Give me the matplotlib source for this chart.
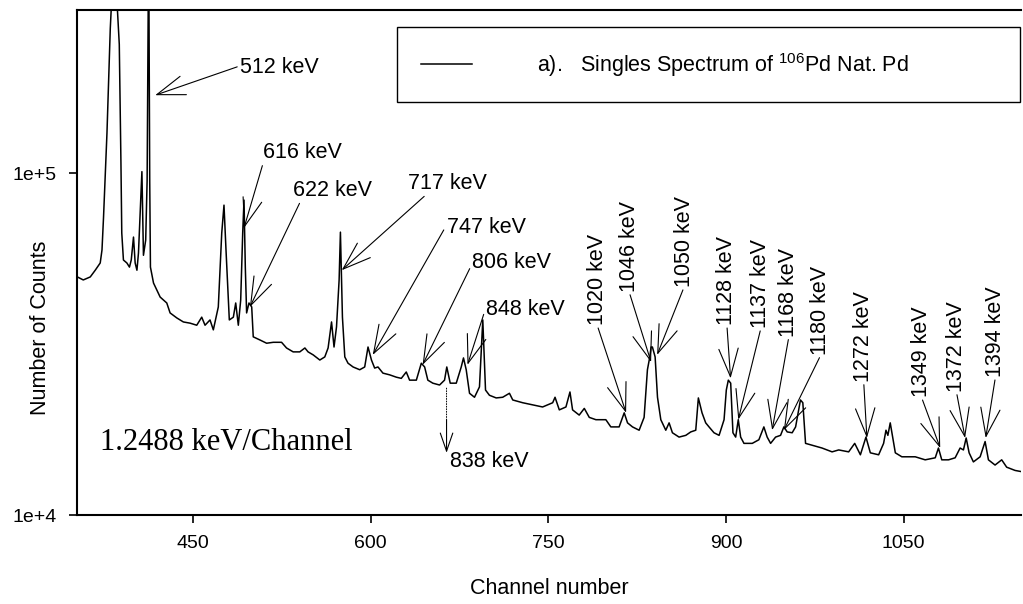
import matplotlib
matplotlib.use("Agg")
import matplotlib.pyplot as plt
import matplotlib.ticker as ticker

plt.rcParams["font.family"] = ["Liberation Sans", "DejaVu Sans"]
plt.rcParams["mathtext.default"] = "regular"

# spectrum: channel number, counts in thousands
channel = [
    352.3, 357.3, 363.2, 367.4, 371.6, 373.1, 374.4, 377.3, 380.1, 382.6,
    385.1, 387.7, 389.1, 389.8, 391.2, 394.1, 396.3, 397.8, 399.7, 401.1,
    402.6, 403.9, 406.8, 408.1, 410.0, 411.2, 412.5, 413.4, 414.0, 416.6,
    419.4, 422.2, 427.8, 430.6, 436.3, 441.8, 447.5, 453.1, 457.3, 460.1,
    464.3, 467.1, 471.3, 474.2, 476.1, 477.8, 480.6, 484.0, 486.0, 488.2,
    490.2, 491.9, 493.0, 494.1, 495.2, 497.2, 499.5, 500.8, 506.5, 512.1,
    517.7, 524.7, 528.9, 534.5, 540.1, 544.4, 547.1, 551.4, 557.0, 561.2,
    564.0, 566.9, 569.0, 571.1, 573.3, 574.4, 576.1, 578.1, 580.8, 585.1,
    590.7, 594.9, 597.7, 600.6, 603.3, 606.1, 610.3, 616.0, 621.6, 625.8,
    630.0, 632.8, 638.5, 642.7, 645.5, 648.2, 652.4, 658.1, 662.3, 664.2,
    667.1, 672.2, 676.4, 678.3, 680.6, 683.4, 687.6, 691.8, 694.6, 696.9,
    700.2, 705.9, 711.4, 717.1, 719.9, 728.3, 736.7, 745.1, 753.6, 755.6,
    759.2, 764.8, 768.2, 770.4, 776.0, 780.3, 784.5, 790.1, 798.5, 802.7,
    809.7, 814.0, 816.8, 821.0, 826.6, 830.8, 833.6, 835.6, 836.7, 837.8,
    840.1, 842.1, 844.9, 849.1, 851.9, 854.7, 860.3, 866.0, 870.2, 874.4,
    876.6, 879.7, 882.8, 885.6, 889.8, 894.1, 898.3, 900.2, 901.9, 903.9,
    905.8, 908.1, 910.3, 912.3, 915.1, 922.1, 927.7, 931.9, 934.7, 937.6,
    941.8, 946.0, 948.8, 951.6, 955.8, 958.7, 962.8, 964.8, 967.1, 972.6,
    981.0, 989.5, 995.1, 1003.5, 1008.6, 1013.4, 1018.1, 1021.8, 1028.8, 1033.0,
    1035.0, 1036.6, 1038.6, 1040.6, 1042.9, 1048.4, 1059.7, 1068.1, 1076.6, 1079.3,
    1082.1, 1087.8, 1093.4, 1097.6, 1100.4, 1102.7, 1105.2, 1108.8, 1114.5, 1118.7,
    1121.5, 1127.1, 1132.7, 1136.9, 1144.0, 1149.0,
]
counts_k = [
    49.7, 48.7, 49.7, 52.0, 54.6, 59.6, 74.3, 131, 265, 400,
    350, 238, 107, 66.8, 55.7, 54.6, 53.1, 55.7, 65.0, 54.6,
    52.0, 58.4, 101, 57.5, 63.7, 95, 500, 95, 53.1, 47.7,
    45.5, 43.4, 41.7, 39.0, 37.7, 36.7, 36.4, 35.9, 37.9, 35.9,
    37.2, 34.8, 40.6, 66.8, 80.6, 59.6, 37.2, 37.9, 41.7, 35.9,
    42.5, 66.8, 83.4, 53.1, 39.0, 41.7, 40.6, 33.2, 32.5, 31.8,
    32.0, 32.0, 30.8, 30.0, 30.0, 30.8, 30.0, 29.4, 28.4, 29.0,
    30.8, 36.7, 31.0, 35.5, 48.7, 67.2, 37.9, 29.0, 27.8, 27.1,
    26.6, 27.1, 31.0, 28.4, 26.9, 27.1, 26.0, 25.7, 25.3, 25.1,
    26.2, 24.8, 24.8, 27.8, 27.1, 24.8, 24.3, 24.0, 24.8, 27.1,
    24.3, 24.3, 27.1, 28.8, 26.6, 22.7, 22.1, 23.7, 37.2, 23.2,
    22.4, 22.0, 22.1, 22.7, 21.7, 21.3, 21.0, 20.7, 21.3, 22.1,
    20.3, 20.7, 22.9, 20.3, 19.6, 20.5, 19.3, 19.0, 19.0, 18.1,
    18.1, 19.9, 18.6, 18.1, 17.7, 19.3, 26.6, 29.0, 31.0, 31.0,
    29.0, 22.1, 19.0, 17.7, 18.6, 17.4, 16.9, 17.1, 17.5, 17.7,
    22.0, 19.9, 18.6, 18.1, 17.4, 17.1, 19.0, 23.2, 24.8, 24.3,
    17.4, 16.9, 19.0, 16.9, 16.2, 16.2, 16.6, 18.1, 16.9, 16.2,
    16.9, 17.1, 18.1, 17.5, 17.4, 18.1, 21.7, 21.3, 16.2, 16.0,
    15.7, 15.3, 15.5, 15.3, 16.2, 15.0, 16.9, 15.2, 15.0, 16.2,
    17.7, 17.1, 18.6, 16.9, 15.2, 14.8, 14.8, 14.5, 14.7, 15.7,
    14.5, 14.5, 14.7, 15.7, 15.5, 16.8, 15.2, 14.3, 14.8, 16.4,
    14.5, 14.0, 14.5, 13.8, 13.5, 13.4,
]

# horizontal peak labels: text anchor (channel, kcounts) and arrow tip
h_labels = ["512 keV", "616 keV", "622 keV", "717 keV", "747 keV", "806 keV", "848 keV"]
h_text_ch = [489.6, 509.2, 534.3, 631.1, 664.0, 685.9, 697.7]
h_text_k = [203, 115, 89.2, 93.5, 69.5, 54.6, 39.8]
h_tip_ch = [418, 493, 498, 575.5, 601.7, 643.8, 681.7]
h_tip_k = [169, 69.1, 40.6, 52.0, 29.4, 27.5, 27.5]
h_relpos = [(0, 0.6), (0, 0), (0.1, 0), (0.25, 0), (0, 0.6), (0, 0.5), (0, 0.7)]

# vertical peak labels
v_labels = ["1020 keV", "1046 keV", "1050 keV", "1128 keV", "1137 keV", "1168 keV",
            "1180 keV", "1272 keV", "1349 keV", "1372 keV", "1394 keV"]
v_text_ch = [791.2, 818.2, 864.5, 900.7, 929.4, 953.0, 980.0, 1016.2, 1065.0, 1094.5, 1127.4]
v_text_k = [35.9, 44.9, 46.4, 35.9, 35.2, 33.2, 29.4, 24.5, 22.1, 22.9, 25.3]
v_tip_ch = [815.6, 836.7, 841.8, 903.8, 910.3, 938.9, 948.8, 1018.9, 1080.8, 1101.8, 1119.2]
v_tip_k = [19.9, 28.0, 29.4, 25.1, 19.0, 17.7, 17.7, 16.8, 15.7, 16.8, 16.8]

fs = 15.5
head = "->,head_length=1.3,head_width=0.45"

fig = plt.figure(figsize=(10.23, 6.04), dpi=100)
ax = fig.add_axes([77 / 1023, 89 / 604, 944 / 1023, 505 / 604])

ax.plot(channel, [c * 1000 for c in counts_k], color="k", lw=1.1,
        label=r"a).   Singles Spectrum of $^{106}$Pd Nat. Pd")

ax.set_yscale("log")
ax.set_xlim(352, 1149)
ax.set_ylim(1e4, 3e5)
ax.xaxis.set_major_locator(ticker.FixedLocator([450, 600, 750, 900, 1050]))
ax.yaxis.set_major_locator(ticker.FixedLocator([1e4, 1e5]))
ax.yaxis.set_major_formatter(ticker.FixedFormatter(["1e+4", "1e+5"]))
ax.yaxis.set_minor_locator(ticker.NullLocator())
ax.tick_params(direction="out", length=6, width=1.2, labelsize=14, pad=8.5)

for s in ["left", "bottom", "top"]:
    ax.spines[s].set_linewidth(1.5)
ax.spines["right"].set_visible(False)

ax.set_xlabel("Channel number", fontsize=fs)
ax.set_ylabel("Number of Counts", fontsize=fs)
ax.xaxis.set_label_coords(0.5, -0.125)
ax.yaxis.set_label_coords(-0.028, 0.37)

for lab, tx, ty, px, py, rp in zip(h_labels, h_text_ch, h_text_k, h_tip_ch, h_tip_k, h_relpos):
    ax.annotate(lab, xy=(px, py * 1000), xytext=(tx, ty * 1000), fontsize=fs,
                ha="left", va="center",
                arrowprops=dict(arrowstyle=head, color="k", lw=0.8,
                                shrinkA=0, shrinkB=0, relpos=rp))

for lab, tx, ty, px, py in zip(v_labels, v_text_ch, v_text_k, v_tip_ch, v_tip_k):
    ax.annotate(lab, xy=(px, py * 1000), xytext=(tx, ty * 1000), fontsize=fs,
                rotation=90, ha="center", va="bottom",
                arrowprops=dict(arrowstyle=head, color="k", lw=0.8,
                                shrinkA=0, shrinkB=0, relpos=(0.5, 0)))

# 838 keV: dotted shaft pointing down, solid head
ax.annotate("", xy=(664, 19000), xytext=(664, 23500),
            arrowprops=dict(arrowstyle="-", color="k", lw=0.7, ls=":",
                            shrinkA=0, shrinkB=0))
ax.annotate("", xy=(664, 15200), xytext=(664, 19000),
            arrowprops=dict(arrowstyle=head, color="k", lw=0.8,
                            shrinkA=0, shrinkB=0), annotation_clip=False)
ax.text(666.5, 14300, "838 keV", fontsize=fs, ha="left", va="center")

ax.text(0.024, 0.143, "1.2488 keV/Channel", transform=ax.transAxes,
        family="Liberation Serif", fontsize=22, ha="left", va="center")

leg = ax.legend(loc="upper left", bbox_to_anchor=(0.339, 0.83, 0.66, 0.136),
                mode="expand", borderaxespad=0, fancybox=False, edgecolor="k",
                framealpha=1, handlelength=2.4, handletextpad=3.0,
                borderpad=1.1, fontsize=fs)
leg.get_frame().set_linewidth(1.0)

fig.savefig("out.png", dpi=100)
